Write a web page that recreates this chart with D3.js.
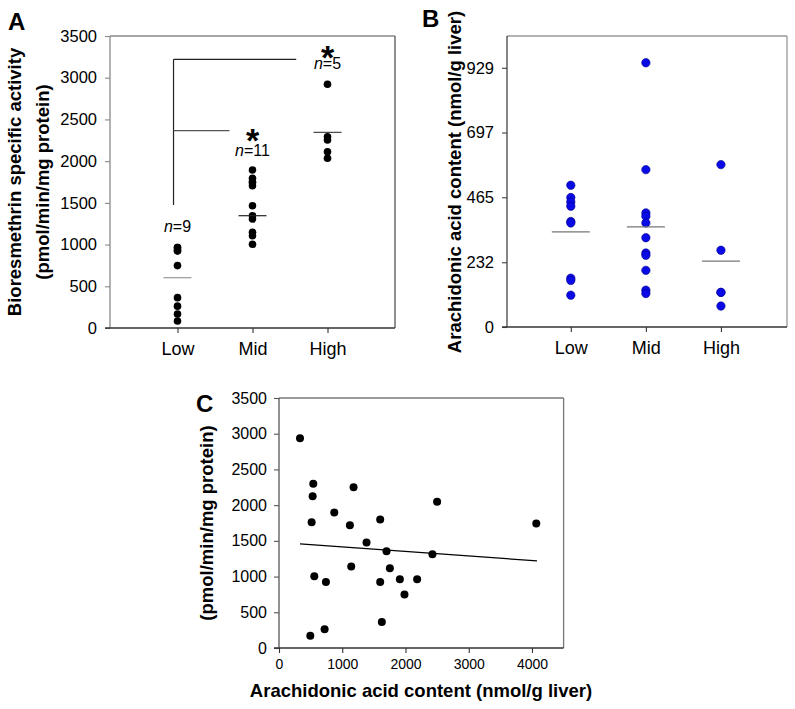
<!DOCTYPE html>
<html><head><meta charset="utf-8">
<script src="https://cdn.jsdelivr.net/npm/d3@7"></script>
<style>
body{margin:0;background:#fff;}
svg{display:block;font-family:"Liberation Sans",Arial,sans-serif;}
</style></head>
<body><svg id="chart" width="795" height="709"></svg>
<script>
// ---------- DATA ----------
const categories = ["Low", "Mid", "High"];
const nLabels = ["9", "11", "5"];
// Panel A: bioresmethrin specific activity (pmol/min/mg protein)
const activityLow  = [963, 963, 925, 925, 748, 364, 262, 168, 84];
const activityMid  = [1894, 1794, 1754, 1740, 1706, 1466, 1346, 1306, 1147, 1106, 1003];
const activityHigh = [2921, 2293, 2253, 2113, 2034];
const activityMeans = [603, 1346, 2345];
const activityTicks = [0, 500, 1000, 1500, 2000, 2500, 3000, 3500];
// label heights (activity units): n= labels and asterisks
const nLabelY = [1150, 2062, 3104];
const starY = [null, 2115, 3100];
// significance brackets (category units, activity units)
const bracketLeft = 0.947, bracketTopEnd = 2.583, bracketMidEnd = 1.693;
const bracketTopY = 3221, bracketMidY = 2365, bracketBottomY = 1474;
// Panel B: arachidonic acid content (nmol/g liver)
const arachLow  = [508, 464, 448, 433, 378, 373, 175, 167, 114];
const arachMid  = [947, 564, 409, 397, 373, 320, 265, 257, 203, 132, 120];
const arachHigh = [582, 275, 124, 124, 75];
const arachMeans = [341, 359, 236];
const arachTicks = [0, 232, 465, 697, 929];
// Panel C: scatter
const scatterX = [332, 542, 532, 1179, 2500, 874, 516, 1121, 1600, 4068, 1384, 1700, 2426, 1142, 1753, 558, 742, 1600, 1911, 2184, 1984, 1626, 721, 495];
const scatterY = [2935, 2299, 2126, 2252, 2047, 1897, 1762, 1720, 1799, 1743, 1477, 1355, 1313, 1140, 1117, 1005, 925, 925, 963, 963, 748, 364, 262, 173];
const fitX = [332, 4079];
const fitY = [1458, 1220];
const scatterTicksX = [0, 1000, 2000, 3000, 4000];
const scatterTicksY = [0, 500, 1000, 1500, 2000, 2500, 3000, 3500];

// ---------- DRAW ----------
const svg = d3.select("#chart");
const FONT = '"Liberation Sans",Arial,sans-serif';
const fmt = d3.format("d");

function frame(g, x0, x1, y0, y1, cols) {
  g.append("line").attr("x1", x0).attr("x2", x1).attr("y1", y0).attr("y2", y0).attr("stroke", cols.top).attr("stroke-width", 1.3);
  g.append("line").attr("x1", x1).attr("x2", x1).attr("y1", y0).attr("y2", y1).attr("stroke", cols.right).attr("stroke-width", 1.3);
}
function styleAxis(sel, color, fs) {
  sel.select(".domain").attr("stroke", color).attr("stroke-width", 1.3);
  sel.selectAll(".tick line").attr("stroke", color).attr("stroke-width", 1.1);
  sel.selectAll(".tick text").attr("fill", "#000").attr("font-size", fs).attr("font-family", FONT);
}

// ===== Panel A =====
{
  const x = d3.scaleLinear().domain([0.1, 3.9]).range([110, 395]);
  const y = d3.scaleLinear().domain([0, 3500]).range([328, 36]);
  const g = svg.append("g");
  frame(g, 110, 395, 36, 328, {top: "#888", right: "#555"});
  const ya = g.append("g").attr("transform", "translate(110,0)")
    .call(d3.axisLeft(y).tickValues(activityTicks).tickFormat(fmt).tickSize(5).tickPadding(8).tickSizeOuter(0));
  styleAxis(ya, "#888", "16.5px");
  ya.select(".domain").attr("d", `M0,${y(0)}V${y(3500)}`);
  const xa = g.append("g").attr("transform", "translate(0,328)")
    .call(d3.axisBottom(x).tickValues([1, 2, 3]).tickFormat((d, i) => categories[i]).tickSize(5).tickPadding(9).tickSizeOuter(0));
  styleAxis(xa, "#333", "18px");
  xa.select(".domain").attr("d", `M105,0H395`);

  const groups = [activityLow, activityMid, activityHigh];
  groups.forEach((vals, i) => {
    g.selectAll(null).data(vals).enter().append("circle")
      .attr("cx", x(i + 1)).attr("cy", d => y(d)).attr("r", 3.8).attr("fill", "#000");
  });
  g.selectAll(null).data(activityMeans).enter().append("line")
    .attr("x1", (d, i) => x(i + 1) - 14).attr("x2", (d, i) => x(i + 1) + 14)
    .attr("y1", d => y(d)).attr("y2", d => y(d))
    .attr("stroke", (d, i) => ["#999", "#222", "#444"][i]).attr("stroke-width", 1.2);

  // brackets
  const bc = "#222";
  g.append("line").attr("x1", x(bracketLeft)).attr("x2", x(bracketLeft)).attr("y1", y(bracketTopY)).attr("y2", y(bracketBottomY)).attr("stroke", bc).attr("stroke-width", 1.2);
  g.append("line").attr("x1", x(bracketLeft)).attr("x2", x(bracketTopEnd)).attr("y1", y(bracketTopY)).attr("y2", y(bracketTopY)).attr("stroke", bc).attr("stroke-width", 1.2);
  g.append("line").attr("x1", x(bracketLeft)).attr("x2", x(bracketMidEnd)).attr("y1", y(bracketMidY)).attr("y2", y(bracketMidY)).attr("stroke", "#555").attr("stroke-width", 1.2);

  // n labels
  nLabels.forEach((n, i) => {
    const t = g.append("text").attr("x", x(i + 1)).attr("y", y(nLabelY[i]))
      .attr("text-anchor", "middle").attr("font-size", "16px").attr("font-family", FONT);
    t.append("tspan").attr("font-style", "italic").text("n");
    t.append("tspan").text("=" + n);
  });
  // asterisks
  starY.forEach((v, i) => {
    if (v === null) return;
    g.append("text").attr("x", x(i + 1)).attr("y", y(v)).attr("text-anchor", "middle")
      .attr("font-size", "34px").attr("font-weight", "bold").attr("font-family", FONT).text("*");
  });
  // y title
  const yt = g.append("text").attr("transform", `translate(21,182) rotate(-90)`).attr("text-anchor", "middle")
    .attr("font-size", "18.5px").attr("font-weight", "bold").attr("font-family", FONT);
  yt.append("tspan").attr("x", 0).attr("y", 0).text("Bioresmethrin specific activity");
  yt.append("tspan").attr("x", 0).attr("y", 28).text("(pmol/min/mg protein)");
  g.append("text").attr("x", 8).attr("y", 30).attr("font-size", "24px").attr("font-weight", "bold").attr("font-family", FONT).text("A");
}

// ===== Panel B =====
{
  const x = d3.scaleLinear().domain([0.15, 3.88]).range([507, 787]);
  const y = d3.scaleLinear().domain([0, 1043]).range([327, 36]);
  const g = svg.append("g");
  frame(g, 507, 787, 36, 327, {top: "#999", right: "#999"});
  const ya = g.append("g").attr("transform", "translate(507,0)")
    .call(d3.axisLeft(y).tickValues(arachTicks).tickFormat(fmt).tickSize(5).tickPadding(8).tickSizeOuter(0));
  styleAxis(ya, "#444", "16.5px");
  ya.select(".domain").attr("d", `M0,${y(0)}V36`);
  const xa = g.append("g").attr("transform", "translate(0,327)")
    .call(d3.axisBottom(x).tickValues([1, 2, 3]).tickFormat((d, i) => categories[i]).tickSize(5).tickPadding(9).tickSizeOuter(0));
  styleAxis(xa, "#333", "18px");
  xa.select(".domain").attr("d", `M502,0H787`);

  [arachLow, arachMid, arachHigh].forEach((vals, i) => {
    g.selectAll(null).data(vals).enter().append("circle")
      .attr("cx", x(i + 1)).attr("cy", d => y(d)).attr("r", 4.2)
      .attr("fill", "#0a0ae6").attr("stroke", "#00008a").attr("stroke-width", 0.6);
  });
  g.selectAll(null).data(arachMeans).enter().append("line")
    .attr("x1", (d, i) => x(i + 1) - 19).attr("x2", (d, i) => x(i + 1) + 19)
    .attr("y1", d => y(d)).attr("y2", d => y(d))
    .attr("stroke", "#777").attr("stroke-width", 1.2);

  g.append("text").attr("transform", `translate(461,182) rotate(-90)`).attr("text-anchor", "middle")
    .attr("font-size", "18.5px").attr("font-weight", "bold").attr("font-family", FONT)
    .text("Arachidonic acid content (nmol/g liver)");
  g.append("text").attr("x", 422).attr("y", 27).attr("font-size", "24px").attr("font-weight", "bold").attr("font-family", FONT).text("B");
}

// ===== Panel C =====
{
  const x = d3.scaleLinear().domain([0, 4500]).range([279, 563.6]);
  const y = d3.scaleLinear().domain([0, 3500]).range([648, 398]);
  const g = svg.append("g");
  frame(g, 279, 563.6, 398, 648, {top: "#777", right: "#777"});
  const ya = g.append("g").attr("transform", "translate(279,0)")
    .call(d3.axisLeft(y).tickValues(scatterTicksY).tickFormat(fmt).tickSize(5).tickPadding(7).tickSizeOuter(0));
  styleAxis(ya, "#555", "16px");
  ya.select(".domain").attr("d", `M0,${y(0)}V${y(3500)}`);
  const xa = g.append("g").attr("transform", "translate(0,648)")
    .call(d3.axisBottom(x).tickValues(scatterTicksX).tickFormat(fmt).tickSize(5).tickPadding(6).tickSizeOuter(0));
  styleAxis(xa, "#333", "14px");
  xa.select(".domain").attr("d", `M274,0H563.6`);

  g.selectAll(null).data(scatterX).enter().append("circle")
    .attr("cx", d => x(d)).attr("cy", (d, i) => y(scatterY[i])).attr("r", 4).attr("fill", "#000");
  g.append("line").attr("x1", x(fitX[0])).attr("x2", x(fitX[1])).attr("y1", y(fitY[0])).attr("y2", y(fitY[1]))
    .attr("stroke", "#000").attr("stroke-width", 1.2);

  g.append("text").attr("transform", `translate(213,523) rotate(-90)`).attr("text-anchor", "middle")
    .attr("font-size", "18.5px").attr("font-weight", "bold").attr("font-family", FONT)
    .text("(pmol/min/mg protein)");
  g.append("text").attr("x", 421).attr("y", 697).attr("text-anchor", "middle")
    .attr("font-size", "18.5px").attr("font-weight", "bold").attr("font-family", FONT)
    .text("Arachidonic acid content (nmol/g liver)");
  g.append("text").attr("x", 196).attr("y", 412).attr("font-size", "24px").attr("font-weight", "bold").attr("font-family", FONT).text("C");
}
</script></body></html>
